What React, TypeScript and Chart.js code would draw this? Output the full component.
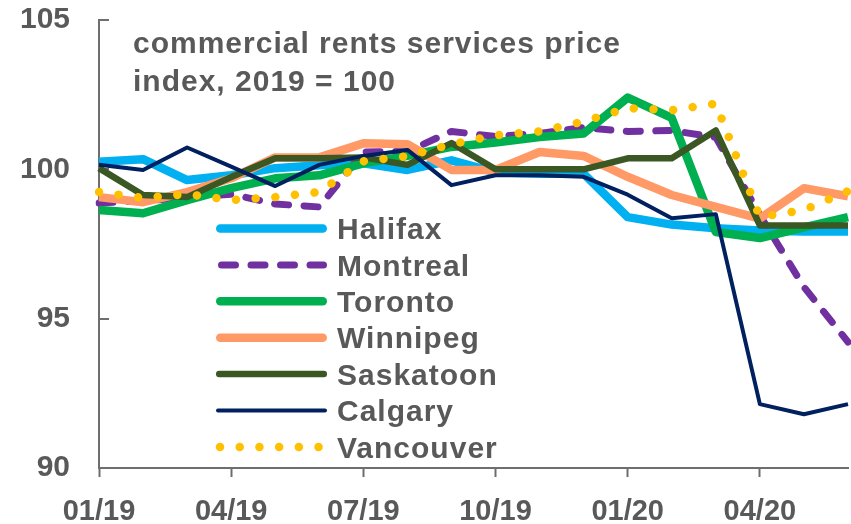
import React, { useEffect, useRef } from 'react';
import { Chart, registerables } from 'chart.js';

Chart.register(...registerables);

const months = ['01/19', '02/19', '03/19', '04/19', '05/19', '06/19', '07/19', '08/19', '09/19', '10/19', '11/19', '12/19', '01/20', '02/20', '03/20', '04/20', '05/20', '06/20'];
const yTicks = [90, 95, 100, 105];
const titleLines = ['commercial rents services price', 'index, 2019 = 100'];

const halifax = [100.25, 100.34, 99.64, 99.8, 100.04, 100.14, 100.2, 99.98, 100.3, 99.9, 99.85, 99.85, 98.4, 98.15, 98.03, 97.95, 97.92, 97.92];
const montreal = [98.87, 98.95, 99.05, 99.17, 98.84, 98.74, 100.58, 100.6, 101.27, 101.1, 101.2, 101.4, 101.27, 101.3, 101.07, 98.47, 96.06, 94.22];
const toronto = [98.64, 98.53, 98.97, 99.37, 99.7, 99.8, 100.2, 100.45, 100.75, 100.9, 101.08, 101.2, 102.4, 101.72, 97.9, 97.7, 98.06, 98.4];
const winnipeg = [99.07, 98.9, 99.24, 99.7, 100.4, 100.4, 100.87, 100.84, 99.98, 99.98, 100.58, 100.45, 99.75, 99.14, 98.74, 98.35, 99.37, 99.1];
const saskatoon = [100.04, 99.14, 99.07, 99.74, 100.37, 100.37, 100.4, 100.15, 100.88, 100.0, 100.0, 100.0, 100.37, 100.37, 101.3, 98.12, 98.12, 98.12];
const calgary = [100.15, 99.98, 100.73, 100.09, 99.44, 100.15, 100.45, 100.65, 99.47, 99.8, 99.8, 99.75, 99.15, 98.36, 98.5, 92.14, 91.8, 92.14];
const vancouver = [99.24, 99.04, 99.17, 98.97, 99.07, 99.24, 100.27, 100.44, 100.84, 101.14, 101.27, 101.6, 102.05, 101.98, 102.2, 98.4, 98.64, 99.27];

const seriesNames = ['Halifax', 'Montreal', 'Toronto', 'Winnipeg', 'Saskatoon', 'Calgary', 'Vancouver'];
const seriesData = [halifax, montreal, toronto, winnipeg, saskatoon, calgary, vancouver];
const seriesColors = ['#00B0F0', '#7030A0', '#00B050', '#FF9966', '#3A5724', '#002060', '#FFC000'];
const seriesWidths = [8.5, 7, 8.5, 8.5, 6.5, 4, 8.5];
const seriesDashes: number[][] = [[], [14, 15.5], [], [], [], [], [0.01, 19.7]];

const TEXT = '#595959';
const AXIS = '#6e6e6e';
const FONT = '"Liberation Sans", Arial, sans-serif';

const overlayPlugin = {
  id: 'overlay',
  beforeDatasetsDraw(chart: any) {
    const ctx = chart.ctx;
    const ys = chart.scales.y;
    const left = chart.chartArea.left;
    ctx.save();
    ctx.strokeStyle = AXIS;
    ctx.lineWidth = 2;
    yTicks.forEach((v) => {
      const py = Math.round(ys.getPixelForValue(v));
      ctx.beginPath();
      ctx.moveTo(left, py);
      ctx.lineTo(left + 10, py);
      ctx.stroke();
    });
    ctx.restore();
  },
  afterDatasetsDraw(chart: any) {
    const ctx = chart.ctx;
    ctx.save();
    ctx.fillStyle = TEXT;
    ctx.font = `bold 30px ${FONT}`;
    (ctx as any).letterSpacing = '1px';
    ctx.textAlign = 'left';
    ctx.textBaseline = 'alphabetic';
    ctx.fillText(titleLines[0], 133, 53);
    ctx.fillText(titleLines[1], 133, 91);

    const rowY0 = 228.5;
    const rowStep = 36.4;
    chart.data.datasets.forEach((ds: any, i: number) => {
      const cy = rowY0 + i * rowStep;
      const w = ds.borderWidth;
      ctx.save();
      ctx.strokeStyle = ds.borderColor;
      ctx.lineWidth = w;
      ctx.lineCap = 'round';
      ctx.setLineDash(ds.borderDash || []);
      ctx.beginPath();
      if (ds.borderDash && ds.borderDash.length && ds.borderDash[0] < 1) {
        ctx.moveTo(220, cy);
        ctx.lineTo(320.5, cy);
      } else if (ds.borderDash && ds.borderDash.length) {
        ctx.moveTo(221.5, cy);
        ctx.lineTo(323.5, cy);
      } else {
        ctx.moveTo(216 + w / 2, cy);
        ctx.lineTo(327 - w / 2, cy);
      }
      ctx.stroke();
      ctx.restore();
      ctx.fillText(ds.label, 337, cy + 10.7);
    });
    ctx.restore();
  },
};

export default function App() {
  const ref = useRef<HTMLCanvasElement | null>(null);
  useEffect(() => {
    if (!ref.current) return;
    const n = seriesNames.length;
    const chart = new Chart(ref.current, {
      type: 'line',
      data: {
        labels: months,
        datasets: seriesNames.map((name, i) => ({
          label: name,
          data: seriesData[i],
          borderColor: seriesColors[i],
          backgroundColor: seriesColors[i],
          borderWidth: seriesWidths[i],
          borderDash: seriesDashes[i],
          borderCapStyle: seriesDashes[i].length ? 'round' : 'butt',
          borderJoinStyle: 'round',
          pointRadius: 0,
          pointHoverRadius: 0,
          tension: 0,
          fill: false,
          order: n - 1 - i,
        })),
      },
      options: {
        animation: false,
        responsive: false,
        devicePixelRatio: 1,
        events: [],
        layout: { padding: { top: 20, right: 3, left: 0, bottom: 0 } },
        plugins: {
          legend: { display: false },
          title: { display: false },
          tooltip: { enabled: false },
        },
        scales: {
          x: {
            type: 'category',
            offset: false,
            grid: {
              display: true,
              drawOnChartArea: false,
              drawTicks: true,
              tickLength: 9,
              tickWidth: 2,
              tickColor: (c: any) => (c.index % 3 === 0 ? AXIS : 'rgba(0,0,0,0)'),
            },
            border: { display: true, color: AXIS, width: 2 },
            ticks: {
              autoSkip: false,
              maxRotation: 0,
              minRotation: 0,
              padding: 18,
              color: TEXT,
              font: { family: FONT, size: 29, weight: 'bold' },
              callback: (_v: any, idx: number) => (idx % 3 === 0 ? months[idx] : ''),
            },
            afterFit: (s: any) => {
              s.height = 56;
              s.paddingLeft = 0;
              s.paddingRight = 0;
            },
          },
          y: {
            min: 90,
            max: 105,
            grid: { display: true, drawOnChartArea: false, drawTicks: false },
            border: { display: true, color: AXIS, width: 2 },
            ticks: {
              stepSize: 5,
              padding: 29,
              color: TEXT,
              font: { family: FONT, size: 30, weight: 'bold' },
            },
            afterFit: (s: any) => {
              s.width = 99;
              s.paddingTop = 0;
              s.paddingBottom = 0;
            },
          },
        },
      },
      plugins: [overlayPlugin],
    } as any);
    return () => chart.destroy();
  }, []);
  return (
    <div style={{ position: 'absolute', left: 0, top: 0, width: 851, height: 524, background: '#fff' }}>
      <canvas ref={ref} width={851} height={524} style={{ display: 'block', width: 851, height: 524 }} />
    </div>
  );
}
